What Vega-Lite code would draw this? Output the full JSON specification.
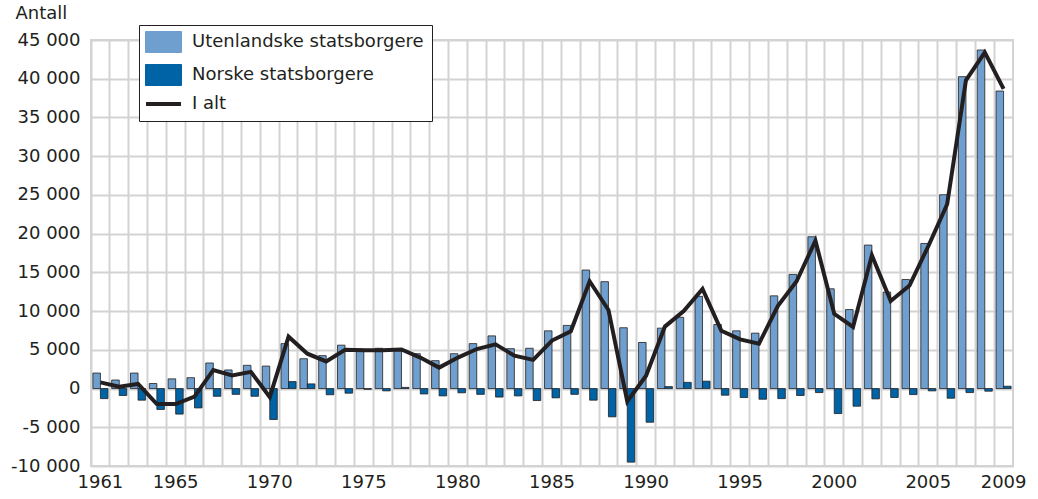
{
  "$schema": "https://vega.github.io/schema/vega-lite/v6.json",
  "autosize": {"type": "none"},
  "width": 922,
  "height": 426,
  "padding": {"left": 91, "top": 40, "right": 25, "bottom": 33},
  "background": "white",
  "config": {
    "view": {"stroke": "#d3d3d3", "strokeWidth": 2},
    "font": "DejaVu Sans",
    "axis": {
      "labelFont": "DejaVu Sans", "labelFontSize": 18, "labelColor": "#231f20",
      "titleFont": "DejaVu Sans", "titleFontSize": 18, "titleColor": "#231f20", "titleFontWeight": "normal",
      "gridColor": "#d3d3d3", "gridWidth": 2, "gridOpacity": 1,
      "domain": false, "ticks": false, "labelOverlap": false
    },
    "legend": {
      "title": null, "orient": "none", "legendX": 48, "legendY": -15,
      "fillColor": "white", "strokeColor": "#231f20", "padding": 8,
      "labelFont": "DejaVu Sans", "labelFontSize": 18, "labelColor": "#231f20", "labelOffset": 27, "labelLimit": 400,
      "symbolSize": 441, "symbolType": "M-1,-1H2.43V1H-1Z", "rowPadding": 7,
      "symbolStrokeColor": "#333333", "symbolStrokeWidth": 1, "symbolOpacity": 1
    }
  },
  "datasets": {
    "bars": [
      {"year": 1961, "series": "Utenlandske statsborgere", "value": 2000}, {"year": 1961, "series": "Norske statsborgere", "value": -1300},
      {"year": 1962, "series": "Utenlandske statsborgere", "value": 1100}, {"year": 1962, "series": "Norske statsborgere", "value": -900},
      {"year": 1963, "series": "Utenlandske statsborgere", "value": 2000}, {"year": 1963, "series": "Norske statsborgere", "value": -1500},
      {"year": 1964, "series": "Utenlandske statsborgere", "value": 650}, {"year": 1964, "series": "Norske statsborgere", "value": -2700},
      {"year": 1965, "series": "Utenlandske statsborgere", "value": 1250}, {"year": 1965, "series": "Norske statsborgere", "value": -3300},
      {"year": 1966, "series": "Utenlandske statsborgere", "value": 1400}, {"year": 1966, "series": "Norske statsborgere", "value": -2500},
      {"year": 1967, "series": "Utenlandske statsborgere", "value": 3300}, {"year": 1967, "series": "Norske statsborgere", "value": -1000},
      {"year": 1968, "series": "Utenlandske statsborgere", "value": 2400}, {"year": 1968, "series": "Norske statsborgere", "value": -750},
      {"year": 1969, "series": "Utenlandske statsborgere", "value": 3000}, {"year": 1969, "series": "Norske statsborgere", "value": -1000},
      {"year": 1970, "series": "Utenlandske statsborgere", "value": 2900}, {"year": 1970, "series": "Norske statsborgere", "value": -4000},
      {"year": 1971, "series": "Utenlandske statsborgere", "value": 5800}, {"year": 1971, "series": "Norske statsborgere", "value": 900},
      {"year": 1972, "series": "Utenlandske statsborgere", "value": 3850}, {"year": 1972, "series": "Norske statsborgere", "value": 600},
      {"year": 1973, "series": "Utenlandske statsborgere", "value": 4250}, {"year": 1973, "series": "Norske statsborgere", "value": -800},
      {"year": 1974, "series": "Utenlandske statsborgere", "value": 5600}, {"year": 1974, "series": "Norske statsborgere", "value": -600},
      {"year": 1975, "series": "Utenlandske statsborgere", "value": 5100}, {"year": 1975, "series": "Norske statsborgere", "value": -100},
      {"year": 1976, "series": "Utenlandske statsborgere", "value": 5200}, {"year": 1976, "series": "Norske statsborgere", "value": -300},
      {"year": 1977, "series": "Utenlandske statsborgere", "value": 4900}, {"year": 1977, "series": "Norske statsborgere", "value": 150},
      {"year": 1978, "series": "Utenlandske statsborgere", "value": 4500}, {"year": 1978, "series": "Norske statsborgere", "value": -700},
      {"year": 1979, "series": "Utenlandske statsborgere", "value": 3600}, {"year": 1979, "series": "Norske statsborgere", "value": -950},
      {"year": 1980, "series": "Utenlandske statsborgere", "value": 4500}, {"year": 1980, "series": "Norske statsborgere", "value": -550},
      {"year": 1981, "series": "Utenlandske statsborgere", "value": 5800}, {"year": 1981, "series": "Norske statsborgere", "value": -750},
      {"year": 1982, "series": "Utenlandske statsborgere", "value": 6800}, {"year": 1982, "series": "Norske statsborgere", "value": -1100},
      {"year": 1983, "series": "Utenlandske statsborgere", "value": 5150}, {"year": 1983, "series": "Norske statsborgere", "value": -950},
      {"year": 1984, "series": "Utenlandske statsborgere", "value": 5200}, {"year": 1984, "series": "Norske statsborgere", "value": -1550},
      {"year": 1985, "series": "Utenlandske statsborgere", "value": 7450}, {"year": 1985, "series": "Norske statsborgere", "value": -1200},
      {"year": 1986, "series": "Utenlandske statsborgere", "value": 8150}, {"year": 1986, "series": "Norske statsborgere", "value": -750},
      {"year": 1987, "series": "Utenlandske statsborgere", "value": 15300}, {"year": 1987, "series": "Norske statsborgere", "value": -1500},
      {"year": 1988, "series": "Utenlandske statsborgere", "value": 13800}, {"year": 1988, "series": "Norske statsborgere", "value": -3650},
      {"year": 1989, "series": "Utenlandske statsborgere", "value": 7850}, {"year": 1989, "series": "Norske statsborgere", "value": -9500},
      {"year": 1990, "series": "Utenlandske statsborgere", "value": 5950}, {"year": 1990, "series": "Norske statsborgere", "value": -4350},
      {"year": 1991, "series": "Utenlandske statsborgere", "value": 7800}, {"year": 1991, "series": "Norske statsborgere", "value": 250},
      {"year": 1992, "series": "Utenlandske statsborgere", "value": 9200}, {"year": 1992, "series": "Norske statsborgere", "value": 800},
      {"year": 1993, "series": "Utenlandske statsborgere", "value": 11900}, {"year": 1993, "series": "Norske statsborgere", "value": 950},
      {"year": 1994, "series": "Utenlandske statsborgere", "value": 8270}, {"year": 1994, "series": "Norske statsborgere", "value": -860},
      {"year": 1995, "series": "Utenlandske statsborgere", "value": 7450}, {"year": 1995, "series": "Norske statsborgere", "value": -1160},
      {"year": 1996, "series": "Utenlandske statsborgere", "value": 7150}, {"year": 1996, "series": "Norske statsborgere", "value": -1380},
      {"year": 1997, "series": "Utenlandske statsborgere", "value": 11970}, {"year": 1997, "series": "Norske statsborgere", "value": -1300},
      {"year": 1998, "series": "Utenlandske statsborgere", "value": 14730}, {"year": 1998, "series": "Norske statsborgere", "value": -900},
      {"year": 1999, "series": "Utenlandske statsborgere", "value": 19600}, {"year": 1999, "series": "Norske statsborgere", "value": -520},
      {"year": 2000, "series": "Utenlandske statsborgere", "value": 12880}, {"year": 2000, "series": "Norske statsborgere", "value": -3230},
      {"year": 2001, "series": "Utenlandske statsborgere", "value": 10200}, {"year": 2001, "series": "Norske statsborgere", "value": -2280},
      {"year": 2002, "series": "Utenlandske statsborgere", "value": 18520}, {"year": 2002, "series": "Norske statsborgere", "value": -1330},
      {"year": 2003, "series": "Utenlandske statsborgere", "value": 12450}, {"year": 2003, "series": "Norske statsborgere", "value": -1160},
      {"year": 2004, "series": "Utenlandske statsborgere", "value": 14080}, {"year": 2004, "series": "Norske statsborgere", "value": -780},
      {"year": 2005, "series": "Utenlandske statsborgere", "value": 18730}, {"year": 2005, "series": "Norske statsborgere", "value": -300},
      {"year": 2006, "series": "Utenlandske statsborgere", "value": 25020}, {"year": 2006, "series": "Norske statsborgere", "value": -1250},
      {"year": 2007, "series": "Utenlandske statsborgere", "value": 40270}, {"year": 2007, "series": "Norske statsborgere", "value": -520},
      {"year": 2008, "series": "Utenlandske statsborgere", "value": 43710}, {"year": 2008, "series": "Norske statsborgere", "value": -340},
      {"year": 2009, "series": "Utenlandske statsborgere", "value": 38410}, {"year": 2009, "series": "Norske statsborgere", "value": 300}
    ],
    "total": [
      {"year": 1961, "value": 800}, {"year": 1962, "value": 250}, {"year": 1963, "value": 600}, {"year": 1964, "value": -2000},
      {"year": 1965, "value": -2000}, {"year": 1966, "value": -1050}, {"year": 1967, "value": 2400}, {"year": 1968, "value": 1700},
      {"year": 1969, "value": 2150}, {"year": 1970, "value": -1100}, {"year": 1971, "value": 6700}, {"year": 1972, "value": 4500},
      {"year": 1973, "value": 3500}, {"year": 1974, "value": 5000}, {"year": 1975, "value": 4950}, {"year": 1976, "value": 4950},
      {"year": 1977, "value": 5050}, {"year": 1978, "value": 4000}, {"year": 1979, "value": 2700}, {"year": 1980, "value": 4000},
      {"year": 1981, "value": 5100}, {"year": 1982, "value": 5700}, {"year": 1983, "value": 4250}, {"year": 1984, "value": 3700},
      {"year": 1985, "value": 6200}, {"year": 1986, "value": 7400}, {"year": 1987, "value": 13850}, {"year": 1988, "value": 10150},
      {"year": 1989, "value": -1650}, {"year": 1990, "value": 1650}, {"year": 1991, "value": 8000}, {"year": 1992, "value": 10000},
      {"year": 1993, "value": 12850}, {"year": 1994, "value": 7450}, {"year": 1995, "value": 6350}, {"year": 1996, "value": 5800},
      {"year": 1997, "value": 10650}, {"year": 1998, "value": 13850}, {"year": 1999, "value": 19100}, {"year": 2000, "value": 9650},
      {"year": 2001, "value": 7950}, {"year": 2002, "value": 17200}, {"year": 2003, "value": 11300}, {"year": 2004, "value": 13300},
      {"year": 2005, "value": 18400}, {"year": 2006, "value": 23800}, {"year": 2007, "value": 39800}, {"year": 2008, "value": 43400},
      {"year": 2009, "value": 38700}
    ]
  },
  "encoding": {
    "x": {
      "field": "year", "type": "ordinal",
      "scale": {"paddingInner": 0, "paddingOuter": 0},
      "axis": {
        "title": null, "grid": true, "bandPosition": 0,
        "labelAngle": 0, "labelPadding": 7, "labelBaseline": "top",
        "labelExpr": "indexof([1961,1965,1970,1975,1980,1985,1990,1995,2000,2005,2009], datum.value) >= 0 ? datum.label : ''"
      }
    },
    "y": {
      "field": "value", "type": "quantitative",
      "scale": {"domain": [-10000, 45000], "nice": false},
      "axis": {
        "values": [-10000, -5000, 0, 5000, 10000, 15000, 20000, 25000, 30000, 35000, 40000, 45000],
        "labelExpr": "replace(replace(format(datum.value, ','), ',', ' '), '\u2212', '-')",
        "labelOverlap": false, "labelFlush": false, "labelBound": false,
        "labelPadding": 11, "grid": true,
        "title": "Antall", "titleAngle": 0, "titleAlign": "left", "titleBaseline": "middle",
        "titleX": -76, "titleY": -27
      }
    },
    "color": {
      "field": "series", "type": "nominal",
      "scale": {"domain": ["Utenlandske statsborgere", "Norske statsborgere", "I alt"], "range": ["#6f9fcf", "#0063a6", "#231f20"]},
      "legend": {
        "encode": {
          "symbols": {
            "update": {
              "shape": {"signal": "datum.value === 'I alt' ? 'M-0.95,0H2.38' : 'M-1,-1H2.43V1H-1Z'"},
              "strokeWidth": {"signal": "datum.value === 'I alt' ? 4 : 1"},
              "stroke": {"signal": "datum.value === 'I alt' ? '#231f20' : '#333333'"},
              "fill": {"signal": "datum.value === 'I alt' ? 'transparent' : (datum.value === 'Norske statsborgere' ? '#0063a6' : '#6f9fcf')"}
            }
          }
        }
      }
    }
  },
  "layer": [
    {
      "data": {"name": "bars"},
      "mark": {"type": "bar", "stroke": "#231f20", "strokeWidth": 0.8},
      "encoding": {
        "xOffset": {
          "field": "series", "type": "nominal",
          "scale": {"domain": ["Utenlandske statsborgere", "Norske statsborgere"], "paddingOuter": 0.25, "paddingInner": 0}
        }
      }
    },
    {
      "data": {"name": "total"},
      "mark": {"type": "line", "strokeWidth": 4, "strokeJoin": "miter", "color": "#231f20"},
      "encoding": {
        "color": {"datum": "I alt"}
      }
    }
  ]
}
